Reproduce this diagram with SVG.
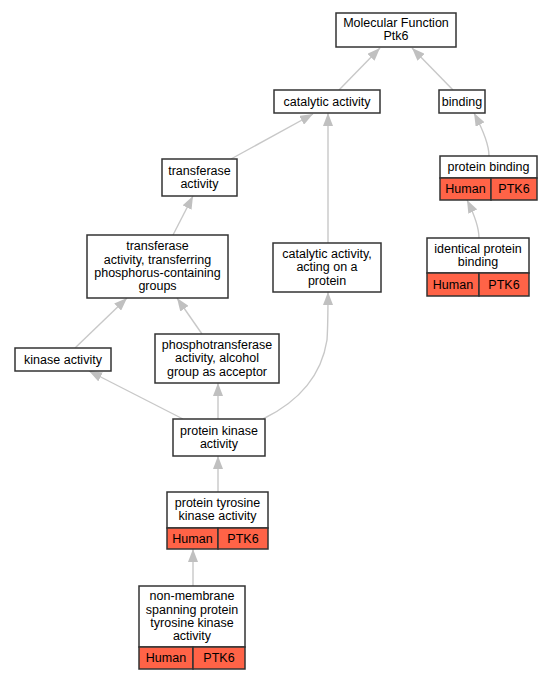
<svg xmlns="http://www.w3.org/2000/svg" width="552" height="680" viewBox="0 0 552 680">
<defs>
<style>
.n{fill:#fff;stroke:#333;stroke-width:1.5}
.r{fill:#ff6347;stroke:#333;stroke-width:1.5}
text{font-family:"Liberation Sans",Arial,sans-serif;font-size:12.5px;fill:#000;text-anchor:middle}
.e{fill:none;stroke:#c8c8c8;stroke-width:1.4}
</style>
<marker id="a" markerUnits="userSpaceOnUse" markerWidth="14" markerHeight="10" refX="13" refY="5" orient="auto">
<path d="M0,0 L13,5 L0,10 z" fill="#c0c0c0"/>
</marker>
</defs>
<rect width="552" height="680" fill="#fff"/>
<g id="edges">
<path class="e" marker-end="url(#a)" d="M339,90 L380,48"/>
<path class="e" marker-end="url(#a)" d="M453,90 L412,48"/>
<path class="e" marker-end="url(#a)" d="M231,159 L313,114"/>
<path class="e" marker-end="url(#a)" d="M328,243 L328,113"/>
<path class="e" marker-end="url(#a)" d="M489,156 C489,144 482,128 474,113"/>
<path class="e" marker-end="url(#a)" d="M479,238 C479,228 474,214 467,200"/>
<path class="e" marker-end="url(#a)" d="M173,235 L193,196"/>
<path class="e" marker-end="url(#a)" d="M75,348 L127,298"/>
<path class="e" marker-end="url(#a)" d="M202,334 L177,298"/>
<path class="e" marker-end="url(#a)" d="M183,419 L89,371"/>
<path class="e" marker-end="url(#a)" d="M218,419 L218,383"/>
<path class="e" marker-end="url(#a)" d="M263,419 C302,400 322,372 327,340 C328,325 328,310 328,292"/>
<path class="e" marker-end="url(#a)" d="M218,492 L218,456"/>
<path class="e" marker-end="url(#a)" d="M193,586 L193,549"/>
</g>
<g id="mf">
<rect class="n" x="336" y="13" width="120" height="34"/>
<text x="396" y="26.5">Molecular Function</text>
<text x="396" y="39.8">Ptk6</text>
</g>
<g id="catalytic">
<rect class="n" x="274" y="90" width="106" height="23"/>
<text x="327" y="105.5">catalytic activity</text>
</g>
<g id="binding">
<rect class="n" x="439" y="90" width="46" height="23"/>
<text x="462" y="105.5">binding</text>
</g>
<g id="proteinbinding">
<rect class="n" x="440" y="156" width="97" height="22"/>
<rect class="r" x="440" y="178" width="51" height="22"/>
<rect class="r" x="491" y="178" width="46" height="22"/>
<text x="488.5" y="171">protein binding</text>
<text x="465.5" y="193">Human</text>
<text x="514" y="193">PTK6</text>
</g>
<g id="identical">
<rect class="n" x="427" y="238" width="102" height="35"/>
<rect class="r" x="427" y="273" width="52" height="23"/>
<rect class="r" x="479" y="273" width="50" height="23"/>
<text x="478" y="252.5">identical protein</text>
<text x="478" y="265.8">binding</text>
<text x="453" y="288.5">Human</text>
<text x="504" y="288.5">PTK6</text>
</g>
<g id="transferase">
<rect class="n" x="162" y="159" width="75" height="37"/>
<text x="199.5" y="174.5">transferase</text>
<text x="199.5" y="187.8">activity</text>
</g>
<g id="transferring">
<rect class="n" x="87" y="235" width="141" height="63"/>
<text x="157.5" y="250.2">transferase</text>
<text x="157.5" y="263.5">activity, transferring</text>
<text x="157.5" y="276.8">phosphorus-containing</text>
<text x="157.5" y="290.1">groups</text>
</g>
<g id="actingprotein">
<rect class="n" x="273" y="243" width="108" height="49"/>
<text x="327" y="257.9">catalytic activity,</text>
<text x="327" y="271.2">acting on a</text>
<text x="327" y="284.5">protein</text>
</g>
<g id="kinase">
<rect class="n" x="15" y="348" width="96" height="23"/>
<text x="63" y="363.5">kinase activity</text>
</g>
<g id="phospho">
<rect class="n" x="155" y="334" width="124" height="49"/>
<text x="217" y="348.9">phosphotransferase</text>
<text x="217" y="362.2">activity, alcohol</text>
<text x="217" y="375.5">group as acceptor</text>
</g>
<g id="proteinkinase">
<rect class="n" x="173" y="419" width="92" height="37"/>
<text x="219" y="434.5">protein kinase</text>
<text x="219" y="447.8">activity</text>
</g>
<g id="tyrosine">
<rect class="n" x="167" y="492" width="101" height="36"/>
<rect class="r" x="167" y="528" width="51" height="21"/>
<rect class="r" x="218" y="528" width="50" height="21"/>
<text x="217.5" y="507">protein tyrosine</text>
<text x="217.5" y="520.3">kinase activity</text>
<text x="192.5" y="542.5">Human</text>
<text x="243" y="542.5">PTK6</text>
</g>
<g id="nonmembrane">
<rect class="n" x="139" y="586" width="106" height="61"/>
<rect class="r" x="139" y="647" width="54" height="22"/>
<rect class="r" x="193" y="647" width="52" height="22"/>
<text x="192" y="600.2">non-membrane</text>
<text x="192" y="613.5">spanning protein</text>
<text x="192" y="626.8">tyrosine kinase</text>
<text x="192" y="640.1">activity</text>
<text x="166" y="662">Human</text>
<text x="219" y="662">PTK6</text>
</g>
</svg>
